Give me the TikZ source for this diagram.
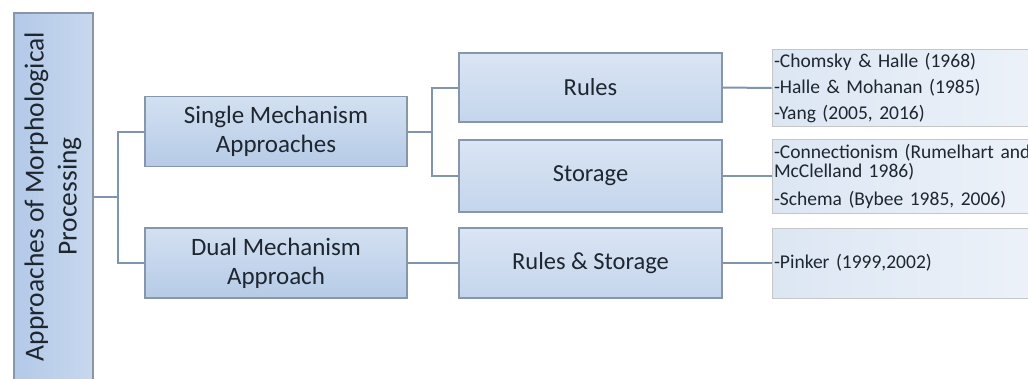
\documentclass[tikz,border=0pt]{standalone}
\usepackage{fontspec}
\usepackage{graphicx}
\setmainfont{Carlito}
\definecolor{conncol}{HTML}{7F94AE}
\definecolor{edgecol}{HTML}{8796AA}
\definecolor{txtcol}{HTML}{1E2630}
\definecolor{midtop}{HTML}{D3E0F1}
\definecolor{midbot}{HTML}{B6CBE7}
\definecolor{sectop}{HTML}{DAE5F4}
\definecolor{secbot}{HTML}{C4D5EC}
\definecolor{listleft}{HTML}{DCE6F3}
\definecolor{listright}{HTML}{EDF2F9}
\definecolor{rootleft}{HTML}{B3C9E8}
\definecolor{rootright}{HTML}{C7D8EE}
\tikzset{
  conn/.style={draw=conncol, line width=2pt},
  rootbox/.style={draw=edgecol, line width=1.3pt, left color=rootleft, right color=rootright,
    minimum width=79pt, minimum height=367pt, inner sep=0pt, text=txtcol,
    font=\fontsize{27.5}{33}\selectfont},
  levelone/.style={draw=edgecol, line width=1.3pt, top color=midtop, bottom color=midbot,
    minimum width=262pt, minimum height=70pt, inner sep=0pt, align=center, text=txtcol,
    font=\fontsize{25}{29}\selectfont},
  leveltwo/.style={draw=edgecol, line width=1.3pt, top color=sectop, bottom color=secbot,
    minimum width=263pt, minimum height=70pt, inner sep=0pt, align=center, text=txtcol,
    font=\fontsize{24.5}{29}\selectfont},
  listbox/.style={draw=gray!45, line width=0.8pt, left color=listleft, right color=listright,
    minimum width=268pt, text width=264pt, inner xsep=1pt, align=left, text=txtcol,
    font=\fontsize{19.5}{19}\selectfont}
}
\begin{document}
\begin{tikzpicture}[x=1pt, y=-1pt]
\useasboundingbox (0,0) rectangle (1028,378);
\fill[white] (0,0) rectangle (1028,378);

% root of the tree, text set vertically
\node[rootbox] (root) at (53.5,196.5)
  {\rotatebox{90}{\begin{tabular}{@{}c@{}}Approaches of Morphological\\Processing\end{tabular}}};

% first level
\node[levelone] (sm) at (276,131.5) {Single Mechanism\\Approaches};
\node[levelone] (dm) at (276,263) {Dual Mechanism\\Approach};

% second level
\node[leveltwo, minimum height=69pt] (rules) at (590.5,87.5) {Rules};
\node[leveltwo, minimum height=72pt] (storage) at (590.5,176) {Storage};
\node[leveltwo] (rs) at (590.5,263) {Rules \& Storage};

% references
\node[listbox, minimum height=70pt] (l1) at (906,88)
  {-Chomsky \& Halle (1968)\\[7pt]-Halle \& Mohanan (1985)\\[7pt]-Yang (2005, 2016)};
\node[listbox, minimum height=74pt] (l2) at (906,176)
  {-Connectionism (Rumelhart and\\McClelland 1986)\\[9pt]-Schema (Bybee 1985, 2006)};
\node[listbox, minimum height=70pt] (l3) at (906,263)
  {-Pinker (1999,2002)};

% connectors
\coordinate (j1) at (118,196.5);
\coordinate (j2) at (432,131.5);
\draw[conn] (root.east) -- (j1);
\draw[conn] (sm.west) -| (j1) |- (dm.west);
\draw[conn] (sm.east) -- (j2);
\draw[conn] (rules.west) -| (j2) |- (storage.west);
\draw[conn] (dm.east) -- (rs.west);
\draw[conn] (rules.east) -- (l1.west);
\draw[conn] (storage.east) -- (l2.west);
\draw[conn] (rs.east) -- (l3.west);
\end{tikzpicture}
\end{document}
